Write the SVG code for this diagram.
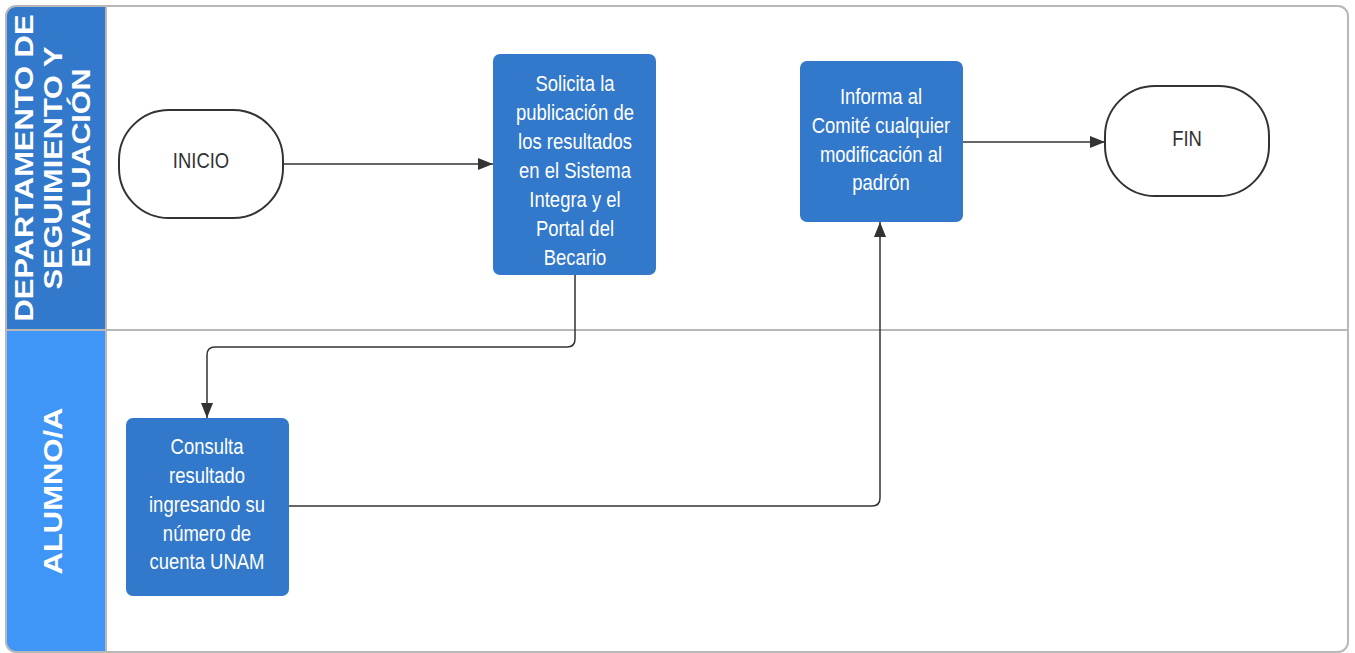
<svg xmlns="http://www.w3.org/2000/svg" width="1355" height="653" viewBox="0 0 1355 653">
<defs>
<style>
.box{fill:#3278CB;}
.term{fill:#ffffff;stroke:#333333;stroke-width:2;}
.btxt{font-family:"Liberation Sans",Arial,sans-serif;font-size:22px;fill:#ffffff;text-anchor:middle;}
.ttxt{font-family:"Liberation Sans",Arial,sans-serif;font-size:22px;fill:#333333;text-anchor:middle;}
.htxt{font-family:"Liberation Sans",Arial,sans-serif;font-size:25px;font-weight:bold;fill:#ffffff;text-anchor:middle;}
.conn{fill:none;stroke:#333333;stroke-width:1.5;}
</style>
<marker id="arr" markerUnits="userSpaceOnUse" markerWidth="16" markerHeight="14" refX="15" refY="7" orient="auto">
<path d="M0,1 L15,7 L0,13 Z" fill="#333333"/>
</marker>
<clipPath id="frameClip"><rect x="6" y="6" width="1342" height="646" rx="10"/></clipPath>
</defs>
<rect x="0" y="0" width="1355" height="653" fill="#ffffff"/>
<g id="lanes">
<g clip-path="url(#frameClip)">
<rect x="6" y="6" width="100" height="324" fill="#3278CB"/>
<rect x="6" y="330" width="100" height="322" fill="#4096F6"/>
</g>
<line x1="106" y1="6" x2="106" y2="652" stroke="#b8b8b8" stroke-width="2"/>
<line x1="6" y1="330" x2="1348" y2="330" stroke="#b8b8b8" stroke-width="2"/>
<rect x="6" y="6" width="1342" height="646" rx="10" fill="none" stroke="#b8b8b8" stroke-width="2"/>
<text class="htxt" transform="translate(33,168) rotate(-90)" x="0" y="0" textLength="307" lengthAdjust="spacingAndGlyphs">DEPARTAMENTO DE</text>
<text class="htxt" transform="translate(62,168) rotate(-90)" x="0" y="0" textLength="243" lengthAdjust="spacingAndGlyphs">SEGUIMIENTO Y</text>
<text class="htxt" transform="translate(90,168) rotate(-90)" x="0" y="0" textLength="199" lengthAdjust="spacingAndGlyphs">EVALUACIÓN</text>
<text class="htxt" transform="translate(62,491) rotate(-90)" x="0" y="0" textLength="167" lengthAdjust="spacingAndGlyphs">ALUMNO/A</text>
</g>
<g id="connectors">
<path class="conn" d="M283,164 H493" marker-end="url(#arr)"/>
<path class="conn" d="M575,275 V339 Q575,347 567,347 H215 Q207,347 207,355 V418" marker-end="url(#arr)"/>
<path class="conn" d="M289,506 H872 Q880,506 880,498 V222" marker-end="url(#arr)"/>
<path class="conn" d="M963,142 H1105" marker-end="url(#arr)"/>
</g>
<g id="inicio">
<rect class="term" x="119" y="110" width="164" height="108" rx="50"/>
<g transform="translate(201,0) scale(0.84,1)"><text class="ttxt" x="0" y="168">INICIO</text></g>
</g>
<g id="solicita">
<rect class="box" x="493" y="54" width="163" height="221" rx="7"/>
<g transform="translate(575,0) scale(0.84,1)">
<text class="btxt" x="0" y="91">Solicita la</text>
<text class="btxt" x="0" y="120">publicación de</text>
<text class="btxt" x="0" y="149">los resultados</text>
<text class="btxt" x="0" y="178">en el Sistema</text>
<text class="btxt" x="0" y="207">Integra y el</text>
<text class="btxt" x="0" y="236">Portal del</text>
<text class="btxt" x="0" y="265">Becario</text>
</g>
</g>
<g id="consulta">
<rect class="box" x="126" y="418" width="163" height="178" rx="7"/>
<g transform="translate(207,0) scale(0.84,1)">
<text class="btxt" x="0" y="454">Consulta</text>
<text class="btxt" x="0" y="483">resultado</text>
<text class="btxt" x="0" y="512">ingresando su</text>
<text class="btxt" x="0" y="541">número de</text>
<text class="btxt" x="0" y="569">cuenta UNAM</text>
</g>
</g>
<g id="informa">
<rect class="box" x="800" y="61" width="163" height="161" rx="7"/>
<g transform="translate(881,0) scale(0.84,1)">
<text class="btxt" x="0" y="104">Informa al</text>
<text class="btxt" x="0" y="133">Comité cualquier</text>
<text class="btxt" x="0" y="162">modificación al</text>
<text class="btxt" x="0" y="190">padrón</text>
</g>
</g>
<g id="fin">
<rect class="term" x="1105" y="86" width="164" height="110" rx="50"/>
<g transform="translate(1187,0) scale(0.84,1)"><text class="ttxt" x="0" y="146">FIN</text></g>
</g>
</svg>
